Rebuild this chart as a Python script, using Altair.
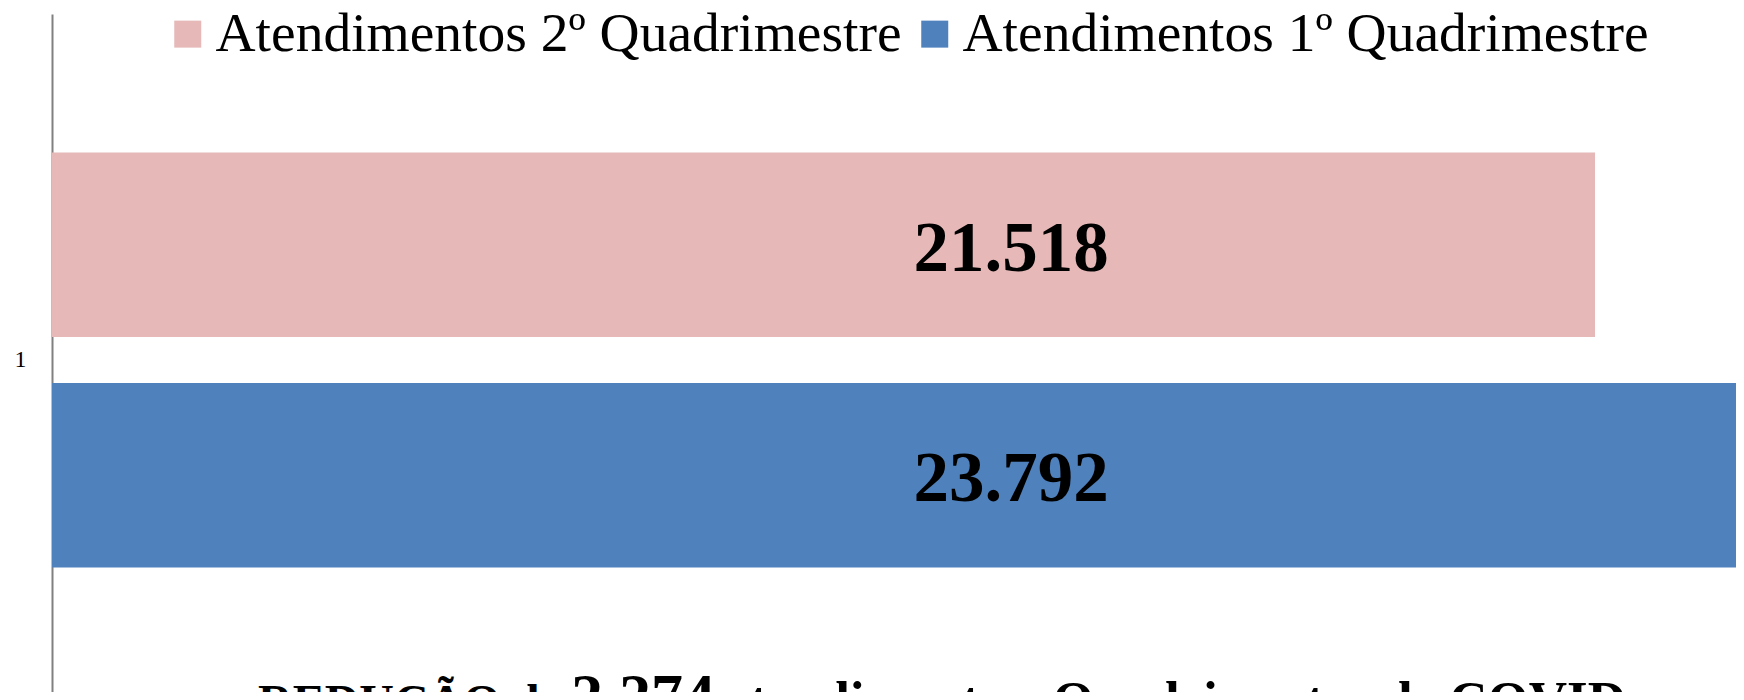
import altair as alt
import pandas as pd

# ---- data ----
categoria = ["1", "1"]
series = ["Atendimentos 2º Quadrimestre", "Atendimentos 1º Quadrimestre"]
valores = [21518, 23792]
rotulos = ["21.518", "23.792"]
cores = ["#E6B9B8", "#4F81BD"]

nota_partes = ["REDUÇÃO de", "2.274", "atendimentos, Quadrimestre de COVID"]

FONT = "Liberation Serif"
W, H = 1684, 678

df = pd.DataFrame({"cat": categoria, "serie": series, "valor": valores, "rotulo": rotulos})

y_enc = alt.Y(
    "cat:N",
    title=None,
    scale=alt.Scale(range=[0, 692], paddingInner=0, paddingOuter=0.3337),
    axis=alt.Axis(
        ticks=False, labelPadding=26, labelFontSize=24, labelFont=FONT,
        labelColor="black", domainColor="#808080", domainWidth=2,
        labelAngle=0, grid=False,
    ),
)
yoff = alt.YOffset("serie:N", sort=series, scale=alt.Scale(paddingInner=0.2, paddingOuter=0))
x_enc = alt.X("valor:Q", axis=None, scale=alt.Scale(domain=[0, 23484], nice=False, zero=True))

bars = alt.Chart(df).mark_bar(clip=True).encode(
    x=x_enc,
    y=y_enc,
    yOffset=yoff,
    color=alt.Color(
        "serie:N",
        sort=series,
        scale=alt.Scale(domain=series, range=cores),
        legend=alt.Legend(
            title=None, orient="none", direction="horizontal",
            legendX=108, legendY=-8, symbolType="square", symbolSize=729,
            symbolStrokeWidth=0, labelFont=FONT, labelFontSize=55.5,
            labelColor="black", labelOffset=0, columnPadding=5,
            labelLimit=2000, padding=0,
        ),
    ),
)

labels = alt.Chart(df).mark_text(
    font=FONT, fontSize=71, fontWeight="bold", color="black",
    align="center", baseline="middle", dy=5,
).encode(
    x=alt.value(959),
    y=y_enc,
    yOffset=yoff,
    text="rotulo:N",
)

def nota(txt, xpos, size):
    return alt.Chart(pd.DataFrame({"t": [txt]})).mark_text(
        font=FONT, fontSize=size, fontWeight="bold", color="black",
        align="left", baseline="alphabetic",
    ).encode(x=alt.value(xpos), y=alt.value(704), text="t:N")

n1 = nota(nota_partes[0], 206, 48)
n2 = nota(nota_partes[1], 519, 64)
n3 = nota(nota_partes[2], 671, 53)

chart = alt.layer(bars, labels, n1, n2, n3).properties(
    width=W, height=H,
    autosize=alt.AutoSizeParams(type="none"),
    padding={"left": 44, "top": 6, "right": 0, "bottom": 0},
    background="white",
).configure_view(strokeWidth=0)

chart.save("out.html", embed_options={"renderer": "svg", "actions": False})
